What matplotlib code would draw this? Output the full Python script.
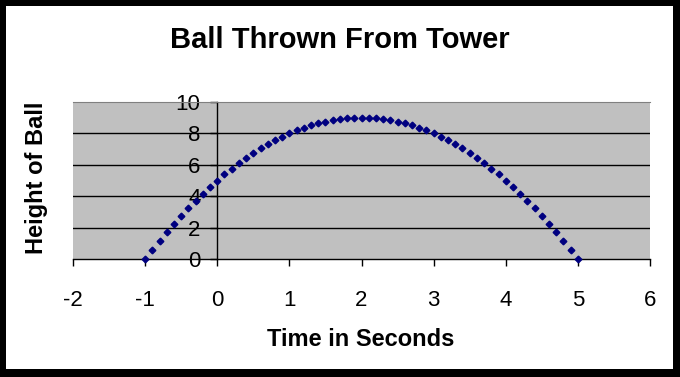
import matplotlib
matplotlib.use("Agg")
import matplotlib.pyplot as plt
from matplotlib.patches import Rectangle

# Time (s) and height of the ball
time_s = [-1.0, -0.9, -0.8, -0.7, -0.6, -0.5, -0.4, -0.3, -0.2, -0.1,
          0.0, 0.1, 0.2, 0.3, 0.4, 0.5, 0.6, 0.7, 0.8, 0.9,
          1.0, 1.1, 1.2, 1.3, 1.4, 1.5, 1.6, 1.7, 1.8, 1.9,
          2.0, 2.1, 2.2, 2.3, 2.4, 2.5, 2.6, 2.7, 2.8, 2.9,
          3.0, 3.1, 3.2, 3.3, 3.4, 3.5, 3.6, 3.7, 3.8, 3.9,
          4.0, 4.1, 4.2, 4.3, 4.4, 4.5, 4.6, 4.7, 4.8, 4.9, 5.0]
height = [0.0, 0.59, 1.16, 1.71, 2.24, 2.75, 3.24, 3.71, 4.16, 4.59,
          5.0, 5.39, 5.76, 6.11, 6.44, 6.75, 7.04, 7.31, 7.56, 7.79,
          8.0, 8.19, 8.36, 8.51, 8.64, 8.75, 8.84, 8.91, 8.96, 8.99,
          9.0, 8.99, 8.96, 8.91, 8.84, 8.75, 8.64, 8.51, 8.36, 8.19,
          8.0, 7.79, 7.56, 7.31, 7.04, 6.75, 6.44, 6.11, 5.76, 5.39,
          5.0, 4.59, 4.16, 3.71, 3.24, 2.75, 2.24, 1.71, 1.16, 0.59, 0.0]

x_ticks = [-2, -1, 0, 1, 2, 3, 4, 5, 6]
y_ticks = [0, 2, 4, 6, 8, 10]

plt.rcParams['font.family'] = ['Liberation Sans', 'DejaVu Sans']
plt.rcParams['axes.unicode_minus'] = False

W, H = 680, 377
fig = plt.figure(figsize=(W / 100, H / 100), dpi=100)
fig.patch.set_facecolor('white')

# plot area in pixel coordinates
left_px, right_px, top_px, bottom_px = 73, 650, 102, 259
ax = fig.add_axes([left_px / W, 1 - bottom_px / H,
                   (right_px - left_px) / W, (bottom_px - top_px) / H])
ax.set_facecolor('#C0C0C0')
ax.set_xlim(-2, 6)
ax.set_ylim(0, 10)

for yv in y_ticks[1:-1]:
    ax.axhline(yv, color='black', linewidth=1.0, zorder=1)

ax.plot(time_s, height, linestyle='none', marker='D', markersize=3.4,
        color='#000080', zorder=3, clip_on=False)

ax.spines['top'].set_color('#808080')
ax.spines['top'].set_linewidth(0.8)
ax.spines['right'].set_visible(False)
ax.spines['left'].set_position(('data', 0))
ax.spines['left'].set_linewidth(1.0)
ax.spines['bottom'].set_linewidth(1.0)
ax.spines['left'].set_zorder(2)

ax.set_xticks(x_ticks)
ax.set_yticks(y_ticks)
ax.tick_params(axis='both', direction='out', length=5, width=1.0,
               labelsize=16, colors='black')
ax.tick_params(axis='x', pad=17)
ax.tick_params(axis='y', pad=7)

fig.text(340 / W, 1 - 40 / H, 'Ball Thrown From Tower', ha='center',
         va='center', fontsize=21, fontweight='bold')
fig.text(361 / W, 1 - 339 / H, 'Time in Seconds', ha='center',
         va='center', fontsize=17, fontweight='bold')
fig.text(37 / W, 1 - 178 / H, 'Height of Ball', ha='center',
         va='center', fontsize=17, fontweight='bold', rotation=90)

# outer black frame
for (x0, y0, w, h) in [(0, 0, W, 8), (0, H - 6, W, 6), (0, 0, 6, H), (W - 7, 0, 7, H)]:
    fig.add_artist(Rectangle((x0 / W, y0 / H), w / W, h / H,
                             transform=fig.transFigure, facecolor='black',
                             edgecolor='none'))

fig.savefig('out.png', dpi=100)
